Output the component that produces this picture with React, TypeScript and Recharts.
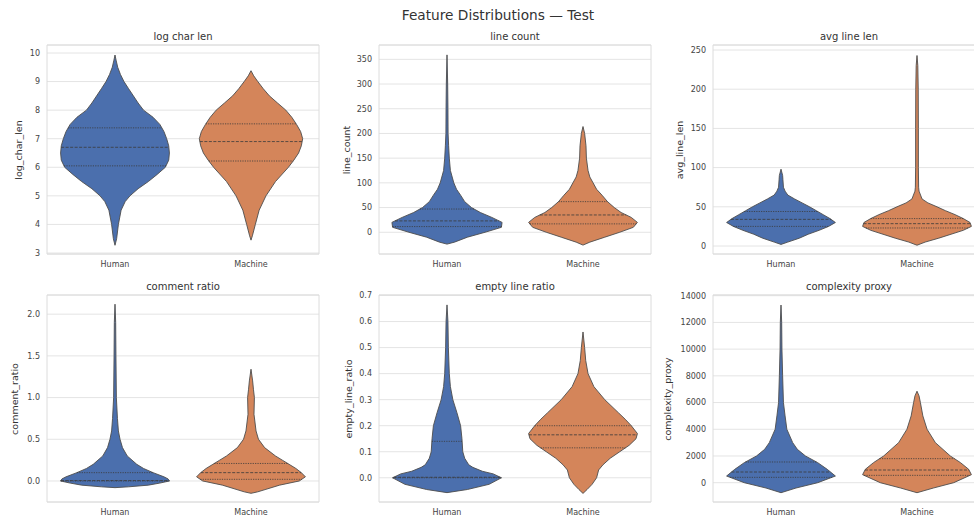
import React from "react";
import { ScatterChart, Scatter, XAxis, YAxis, CartesianGrid, ReferenceArea } from "recharts";

const categories = ["Human", "Machine"];
const violinColors = ["#4b6fad", "#d4855a"];

// violin outlines: [value, half width in category units]
const logCharHuman = [
  [3.27, 0], [3.5, 0.012], [4.0, 0.025], [4.5, 0.045], [4.8, 0.075], [5.0, 0.11], [5.25, 0.17], [5.5, 0.245],
  [5.75, 0.31], [6.0, 0.37], [6.25, 0.395], [6.5, 0.4], [6.75, 0.395], [7.0, 0.38], [7.25, 0.36], [7.5, 0.33],
  [7.75, 0.28], [8.0, 0.21], [8.25, 0.17], [8.5, 0.135], [8.75, 0.1], [9.0, 0.066], [9.25, 0.04], [9.5, 0.02],
  [9.75, 0.008], [9.93, 0],
];
const logCharMachine = [
  [3.45, 0], [3.6, 0.01], [4.0, 0.032], [4.5, 0.06], [5.0, 0.11], [5.5, 0.18], [6.0, 0.275], [6.25, 0.315],
  [6.5, 0.35], [6.75, 0.37], [7.0, 0.38], [7.25, 0.365], [7.5, 0.335], [7.75, 0.3], [8.0, 0.256], [8.25, 0.195],
  [8.5, 0.135], [8.75, 0.09], [9.0, 0.05], [9.2, 0.02], [9.38, 0],
];
const lineCountHuman = [
  [-24, 0], [-20, 0.055], [-10, 0.15], [0, 0.28], [10, 0.4], [20, 0.405], [30, 0.33], [40, 0.245], [50, 0.18],
  [62, 0.13], [75, 0.1], [87, 0.07], [100, 0.05], [125, 0.025], [150, 0.017], [175, 0.012], [200, 0.008],
  [250, 0.007], [300, 0.005], [359, 0],
];
const lineCountMachine = [
  [-26, 0], [-20, 0.05], [-10, 0.16], [0, 0.27], [10, 0.37], [20, 0.4], [30, 0.355], [40, 0.28], [50, 0.23],
  [62, 0.18], [75, 0.14], [87, 0.1], [100, 0.074], [112, 0.05], [125, 0.037], [150, 0.025], [175, 0.022],
  [200, 0.012], [214, 0],
];
const avgLineHuman = [
  [2, 0], [5, 0.05], [10, 0.135], [15, 0.2], [20, 0.28], [25, 0.35], [30, 0.4], [35, 0.36], [40, 0.31],
  [45, 0.26], [50, 0.21], [55, 0.155], [60, 0.1], [65, 0.05], [70, 0.03], [75, 0.018], [85, 0.014],
  [90, 0.012], [98, 0],
];
const avgLineMachine = [
  [1, 0], [5, 0.06], [10, 0.16], [15, 0.25], [20, 0.34], [25, 0.4], [30, 0.39], [35, 0.34], [40, 0.28],
  [45, 0.21], [50, 0.147], [55, 0.08], [60, 0.037], [70, 0.015], [75, 0.012], [100, 0.01], [150, 0.01],
  [200, 0.009], [230, 0.006], [243, 0],
];
const commentHuman = [
  [-0.08, 0], [-0.07, 0.1], [-0.05, 0.245], [-0.025, 0.33], [0, 0.4], [0.025, 0.39], [0.05, 0.36], [0.1, 0.28],
  [0.15, 0.21], [0.2, 0.16], [0.3, 0.09], [0.4, 0.055], [0.5, 0.037], [0.6, 0.025], [0.75, 0.018], [1.0, 0.01],
  [1.5, 0.007], [1.9, 0.005], [2.12, 0],
];
const commentMachine = [
  [-0.148, 0], [-0.13, 0.05], [-0.1, 0.11], [-0.05, 0.21], [0, 0.355], [0.05, 0.4], [0.1, 0.37], [0.15, 0.33],
  [0.2, 0.28], [0.25, 0.23], [0.3, 0.18], [0.4, 0.1], [0.5, 0.055], [0.6, 0.037], [0.8, 0.022], [1.0, 0.025],
  [1.1, 0.018], [1.2, 0.012], [1.34, 0],
];
const emptyHuman = [
  [-0.057, 0], [-0.045, 0.15], [-0.025, 0.31], [0, 0.4], [0.015, 0.34], [0.025, 0.26], [0.04, 0.19],
  [0.05, 0.16], [0.075, 0.13], [0.1, 0.116], [0.15, 0.11], [0.2, 0.1], [0.25, 0.073], [0.3, 0.043],
  [0.35, 0.025], [0.4, 0.017], [0.5, 0.01], [0.6, 0.007], [0.664, 0],
];
const emptyMachine = [
  [-0.06, 0], [-0.045, 0.03], [-0.025, 0.067], [0, 0.1], [0.03, 0.115], [0.05, 0.147], [0.075, 0.2],
  [0.1, 0.27], [0.125, 0.34], [0.15, 0.39], [0.17, 0.4], [0.2, 0.355], [0.225, 0.31], [0.25, 0.26],
  [0.3, 0.16], [0.35, 0.08], [0.4, 0.037], [0.45, 0.02], [0.5, 0.012], [0.56, 0],
];
const complexHuman = [
  [-750, 0], [-400, 0.11], [0, 0.27], [500, 0.4], [1000, 0.34], [1500, 0.27], [2000, 0.18], [2500, 0.12],
  [3000, 0.086], [4000, 0.043], [5000, 0.03], [6000, 0.018], [8000, 0.012], [10000, 0.007], [12000, 0.005],
  [13300, 0],
];
const complexMachine = [
  [-750, 0], [-400, 0.12], [0, 0.27], [600, 0.4], [1000, 0.38], [1500, 0.32], [2000, 0.245], [3000, 0.135],
  [4000, 0.074], [5000, 0.043], [6000, 0.025], [6500, 0.015], [6850, 0],
];

// quartiles [q1, median, q3] per category
const logCharQuart = [[6.05, 6.7, 7.38], [6.22, 6.9, 7.52]];
const lineCountQuart = [[11.5, 23, 47], [17, 35, 62]];
const avgLineQuart = [[25, 34, 44], [23, 28.5, 35]];
const commentQuart = [[0, 0.005, 0.1], [0.02, 0.1, 0.21]];
const emptyQuart = [[0, 0.002, 0.14], [0.115, 0.165, 0.2]];
const complexQuart = [[400, 800, 1550], [550, 950, 1800]];

const logCharTicks = [3, 4, 5, 6, 7, 8, 9, 10];
const lineCountTicks = [0, 50, 100, 150, 200, 250, 300, 350];
const avgLineTicks = [0, 50, 100, 150, 200, 250];
const commentTicks = [0, 0.5, 1.0, 1.5, 2.0];
const emptyTicks = [0, 0.1, 0.2, 0.3, 0.4, 0.5, 0.6, 0.7];
const complexTicks = [0, 2000, 4000, 6000, 8000, 10000, 12000, 14000];

const panels = [
  { title: "log char len", yLabel: "log_char_len", domain: [2.965, 10.28], ticks: logCharTicks, decimals: 0, profiles: [logCharHuman, logCharMachine], quart: logCharQuart },
  { title: "line count", yLabel: "line_count", domain: [-44, 379], ticks: lineCountTicks, decimals: 0, profiles: [lineCountHuman, lineCountMachine], quart: lineCountQuart },
  { title: "avg line len", yLabel: "avg_line_len", domain: [-10.2, 256.4], ticks: avgLineTicks, decimals: 0, profiles: [avgLineHuman, avgLineMachine], quart: avgLineQuart },
  { title: "comment ratio", yLabel: "comment_ratio", domain: [-0.252, 2.23], ticks: commentTicks, decimals: 1, profiles: [commentHuman, commentMachine], quart: commentQuart },
  { title: "empty line ratio", yLabel: "empty_line_ratio", domain: [-0.093, 0.702], ticks: emptyTicks, decimals: 1, profiles: [emptyHuman, emptyMachine], quart: emptyQuart },
  { title: "complexity proxy", yLabel: "complexity_proxy", domain: [-1445, 14052], ticks: complexTicks, decimals: 0, profiles: [complexHuman, complexMachine], quart: complexQuart },
];

// layout of the plot boxes
const layout = [
  { x: 47, y: 45, h: 209, labelGap: 29 },
  { x: 379, y: 45, h: 209, labelGap: 33 },
  { x: 713, y: 45, h: 209, labelGap: 34 },
  { x: 47, y: 295, h: 207, labelGap: 33 },
  { x: 379, y: 295, h: 207, labelGap: 31 },
  { x: 713, y: 295, h: 207, labelGap: 46 },
];
const PLOT_W = 272;
const FONT = "'DejaVu Sans', 'Liberation Sans', sans-serif";

function outline(profile: number[][], c: number) {
  const right = profile.map(([v, w]) => ({ x: c + w, y: v }));
  const left = profile.slice().reverse().map(([v, w]) => ({ x: c - w, y: v }));
  return [...right, ...left];
}

function widthAt(profile: number[][], v: number) {
  for (let i = 1; i < profile.length; i++) {
    const [v0, w0] = profile[i - 1];
    const [v1, w1] = profile[i];
    if (v >= v0 && v <= v1) return w0 + ((w1 - w0) * (v - v0)) / (v1 - v0);
  }
  return 0;
}

const noDot = () => <g />;

function Panel({ p, box }: { p: (typeof panels)[number]; box: (typeof layout)[number] }) {
  const [d0, d1] = p.domain;
  return (
    <>
      <div style={{ position: "absolute", left: box.x - 50, top: box.y - 5 }}>
        <ScatterChart width={PLOT_W + 60} height={box.h + 25} margin={{ top: 5, right: 10, bottom: 0, left: 0 }}>
          <CartesianGrid vertical={false} stroke="#e4e4e4" strokeWidth={1} />
          <XAxis
            type="number"
            dataKey="x"
            domain={[-0.5, 1.5]}
            ticks={[0, 1]}
            allowDataOverflow
            tickFormatter={(i: number) => categories[i]}
            axisLine={false}
            tickLine={false}
            tickSize={4}
            tickMargin={3}
            height={20}
            tick={{ fontSize: 8, fill: "#444", fontFamily: FONT }}
          />
          <YAxis
            type="number"
            dataKey="y"
            domain={[d0, d1]}
            ticks={p.ticks}
            allowDataOverflow
            interval={0}
            tickFormatter={(v: number) => v.toFixed(p.decimals)}
            axisLine={false}
            tickLine={false}
            tickSize={4}
            tickMargin={3}
            width={50}
            tick={{ fontSize: 8, fill: "#444", fontFamily: FONT }}
          />
          <ReferenceArea x1={-0.5} x2={1.5} y1={d0} y2={d1} fill="none" stroke="#dcdcdc" strokeWidth={1} />
          {p.profiles.map((prof, i) => (
            <Scatter
              key={categories[i]}
              name={categories[i]}
              data={outline(prof, i)}
              line={{ fill: violinColors[i], stroke: "#4d4d4d", strokeWidth: 0.9 }}
              lineType="joint"
              lineJointType="linearClosed"
              shape={noDot}
              isAnimationActive={false}
            />
          ))}
          {p.profiles.map((prof, i) =>
            p.quart[i].map((q, k) => {
              const w = widthAt(prof, q);
              return (
                <Scatter
                  key={`q-${i}-${k}`}
                  data={[{ x: i - w, y: q }, { x: i + w, y: q }]}
                  line={{ stroke: "#3a3a3a", strokeWidth: 0.8, strokeDasharray: k === 1 ? "3 1.5" : "1.2 1.2" }}
                  lineType="joint"
                  lineJointType="linear"
                  shape={noDot}
                  isAnimationActive={false}
                />
              );
            })
          )}
        </ScatterChart>
      </div>
      <div
        style={{
          position: "absolute",
          left: box.x + PLOT_W / 2,
          top: box.y - 9,
          transform: "translate(-50%, -50%)",
          fontSize: 10,
          color: "#333",
          whiteSpace: "nowrap",
        }}
      >
        {p.title}
      </div>
      <div
        style={{
          position: "absolute",
          left: box.x - box.labelGap,
          top: box.y + box.h / 2,
          transform: "translate(-50%, -50%) rotate(-90deg)",
          fontSize: 9.5,
          color: "#333",
          whiteSpace: "nowrap",
        }}
      >
        {p.yLabel}
      </div>
    </>
  );
}

export default function App() {
  return (
    <div
      style={{
        position: "absolute",
        left: 0,
        top: 0,
        width: 974,
        height: 517,
        overflow: "hidden",
        background: "#fff",
        fontFamily: FONT,
      }}
    >
      <div
        style={{
          position: "absolute",
          left: 498,
          top: 15,
          transform: "translate(-50%, -50%)",
          fontSize: 13.7,
          color: "#333",
          whiteSpace: "nowrap",
        }}
      >
        Feature Distributions — Test
      </div>
      {panels.map((p, i) => (
        <Panel key={p.title} p={p} box={layout[i]} />
      ))}
    </div>
  );
}
